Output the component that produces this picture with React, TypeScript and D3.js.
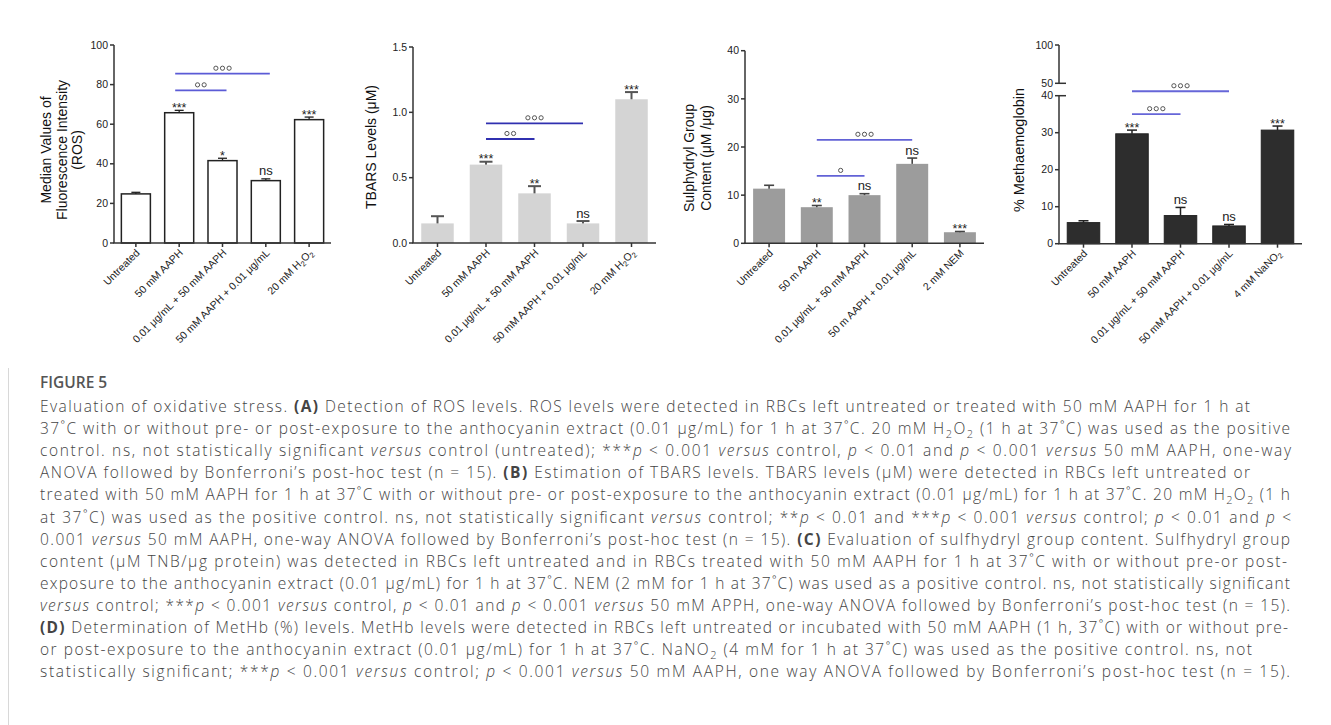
import React from "react";
import * as d3 from "d3";

// ---------------- DATA ----------------
const rosCategories = ["Untreated", "50 mM AAPH", "0.01 μg/mL + 50 mM AAPH", "50 mM AAPH + 0.01 μg/mL", "20 mM H<sub>2</sub>O<sub>2</sub>"];
const rosValues = [24.8, 65.8, 41.6, 31.5, 62.3];
const rosErrors = [0.8, 1.2, 1.2, 0.9, 1.3];
const rosStars = ["", "***", "*", "ns", "***"];
const rosTicks = [0, 20, 40, 60, 80, 100];
const rosBracketFrom = [1, 1];
const rosBracketTo = [2, 3];
const rosBracketY = [77.1, 85.5];
const rosBracketMarks = [2, 3];

const tbarsCategories = ["Untreated", "50 mM AAPH", "0.01 μg/mL + 50 mM AAPH", "50 mM AAPH + 0.01 μg/mL", "20 mM H<sub>2</sub>O<sub>2</sub>"];
const tbarsValues = [0.15, 0.6, 0.38, 0.15, 1.1];
const tbarsErrors = [0.055, 0.022, 0.055, 0.018, 0.055];
const tbarsStars = ["", "***", "**", "ns", "***"];
const tbarsTicks = [0, 0.5, 1.0, 1.5];
const tbarsBracketFrom = [1, 1];
const tbarsBracketTo = [2, 3];
const tbarsBracketY = [0.796, 0.916];
const tbarsBracketMarks = [2, 3];

const shCategories = ["Untreated", "50 m AAPH", "0.01 μg/mL + 50 mM AAPH", "50 m AAPH + 0.01 μg/mL", "2 mM NEM"];
const shValues = [11.35, 7.5, 10.0, 16.5, 2.3];
const shErrors = [0.7, 0.35, 0.3, 1.2, 0.15];
const shStars = ["", "**", "ns", "ns", "***"];
const shTicks = [0, 10, 20, 30, 40];
const shBracketFrom = [1, 1];
const shBracketTo = [2, 3];
const shBracketY = [14.0, 21.5];
const shBracketMarks = [1, 3];

const methCategories = ["Untreated", "50 mM AAPH", "0.01 μg/mL + 50 mM AAPH", "50 mM AAPH + 0.01 μg/mL", "4 mM NaNO<sub>2</sub>"];
const methValues = [5.7, 29.7, 7.6, 4.8, 30.7];
const methErrors = [0.5, 1.0, 2.2, 0.4, 1.1];
const methStars = ["", "***", "ns", "ns", "***"];
const methTicksLower = [0, 10, 20, 30, 40];
const methTicksUpper = [50, 100];
const methBracketFrom = [1, 1];
const methBracketTo = [2, 3];
const methBracketY = [35.0, 41.2];
const methBracketMarks = [3, 3];

const captionTitle = "FIGURE 5";
const captionLines = [
  "Evaluation of oxidative stress. <b>(A)</b> Detection of ROS levels. ROS levels were detected in RBCs left untreated or treated with 50 mM AAPH for 1 h at",
  "37˚C with or without pre- or post-exposure to the anthocyanin extract (0.01 μg/mL) for 1 h at 37˚C. 20 mM H<sub>2</sub>O<sub>2</sub> (1 h at 37˚C) was used as the positive",
  "control. ns, not statistically significant <i>versus</i> control (untreated); ***<i>p</i> < 0.001 <i>versus</i> control, <i>p</i> < 0.01 and <i>p</i> < 0.001 <i>versus</i> 50 mM AAPH, one-way",
  "ANOVA followed by Bonferroni’s post-hoc test (n = 15). <b>(B)</b> Estimation of TBARS levels. TBARS levels (μM) were detected in RBCs left untreated or",
  "treated with 50 mM AAPH for 1 h at 37˚C with or without pre- or post-exposure to the anthocyanin extract (0.01 μg/mL) for 1 h at 37˚C. 20 mM H<sub>2</sub>O<sub>2</sub> (1 h",
  "at 37˚C) was used as the positive control. ns, not statistically significant <i>versus</i> control; **<i>p</i> < 0.01 and ***<i>p</i> < 0.001 <i>versus</i> control; <i>p</i> < 0.01 and <i>p</i> <",
  "0.001 <i>versus</i> 50 mM AAPH, one-way ANOVA followed by Bonferroni’s post-hoc test (n = 15). <b>(C)</b> Evaluation of sulfhydryl group content. Sulfhydryl group",
  "content (μM TNB/μg protein) was detected in RBCs left untreated and in RBCs treated with 50 mM AAPH for 1 h at 37˚C with or without pre-or post-",
  "exposure to the anthocyanin extract (0.01 μg/mL) for 1 h at 37˚C. NEM (2 mM for 1 h at 37˚C) was used as a positive control. ns, not statistically significant",
  "<i>versus</i> control; ***<i>p</i> < 0.001 <i>versus</i> control, <i>p</i> < 0.01 and <i>p</i> < 0.001 <i>versus</i> 50 mM APPH, one-way ANOVA followed by Bonferroni’s post-hoc test (n = 15).",
  "<b>(D)</b> Determination of MetHb (%) levels. MetHb levels were detected in RBCs left untreated or incubated with 50 mM AAPH (1 h, 37˚C) with or without pre-",
  "or post-exposure to the anthocyanin extract (0.01 μg/mL) for 1 h at 37˚C. NaNO<sub>2</sub> (4 mM for 1 h at 37˚C) was used as the positive control. ns, not",
  "statistically significant; ***<i>p</i> < 0.001 <i>versus</i> control; <i>p</i> < 0.001 <i>versus</i> 50 mM AAPH, one way ANOVA followed by Bonferroni’s post-hoc test (n = 15).",
];
const captionLineEnds = [1250, 1290, 1291, 1250, 1290, 1291, 1290, 1287, 1290, 1290, 1288, 1252, 1290];

// ---------------- HELPERS ----------------
const FONT = "'Liberation Sans', Arial, Helvetica, sans-serif";

function rich(s: string, subSize: number, subDy: number) {
  const parts = s.split(/(<\/?(?:b|i|sub)>)/).filter((p) => p !== "");
  let b = false, it = false, sub = false, prevSub = false;
  const out: any[] = [];
  parts.forEach((p, k) => {
    if (p === "<b>") b = true;
    else if (p === "</b>") b = false;
    else if (p === "<i>") it = true;
    else if (p === "</i>") it = false;
    else if (p === "<sub>") sub = true;
    else if (p === "</sub>") sub = false;
    else {
      let dy = 0;
      if (sub && !prevSub) dy = subDy;
      if (!sub && prevSub) dy = -subDy;
      out.push(
        <tspan key={k} dy={dy || undefined} fontWeight={b ? 700 : undefined} fontStyle={it ? "italic" : undefined} fontSize={sub ? subSize : undefined}>
          {p}
        </tspan>
      );
      prevSub = sub;
    }
  });
  return out;
}

type PanelProps = {
  cats: string[];
  vals: number[];
  errs: number[];
  stars: string[];
  bFrom: number[];
  bTo: number[];
  bY: number[];
  bN: number[];
  bExt: number;
  x0: number;
  x1: number;
  y: d3.ScaleLinear<number, number>;
  ticks: number[];
  fmt: (n: number) => string;
  fill: string;
  stroke: string;
  strokeW: number;
  errColor: string;
  errW: number;
  capW: number;
  bracketColor: string;
  titles: string[];
  titleX: number[];
  titleY: number;
  titleSize: number;
  upper?: { y: d3.ScaleLinear<number, number>; ticks: number[] };
};

function Panel(p: PanelProps) {
  const x = d3.scaleBand<number>().domain(d3.range(p.cats.length)).range([p.x0, p.x1]).paddingInner(0.33).paddingOuter(0.17);
  const yBase = p.y(0);
  const axisColor = "#333";
  const lowerTop = p.y(p.ticks[p.ticks.length - 1]);
  return (
    <g fontFamily={FONT}>
      {p.vals.map((v, i) => (
        <rect key={"b" + i} x={x(i)} y={p.y(v)} width={x.bandwidth()} height={yBase - p.y(v)} fill={p.fill} stroke={p.stroke} strokeWidth={p.strokeW} />
      ))}
      {p.vals.map((v, i) => {
        const cx = (x(i) as number) + x.bandwidth() / 2;
        const top = p.y(v + p.errs[i]);
        return (
          <g key={"e" + i} stroke={p.errColor} strokeWidth={p.errW}>
            <line x1={cx} x2={cx} y1={p.y(v)} y2={top} />
            <line x1={cx - p.capW / 2} x2={cx + p.capW / 2} y1={top} y2={top} />
          </g>
        );
      })}
      {p.stars.map((s, i) => {
        if (!s) return null;
        const cx = (x(i) as number) + x.bandwidth() / 2;
        const top = p.y(p.vals[i] + p.errs[i]);
        const isNs = s === "ns";
        return (
          <text key={"s" + i} x={cx} y={isNs ? top - 3.5 : top + 1.5} textAnchor="middle" fontSize={isNs ? 13 : 12.5} fill="#222">
            {s}
          </text>
        );
      })}
      {p.bFrom.map((f, k) => {
        const xa = (x(f) as number) + x.bandwidth() / 2 - p.bExt;
        const xb = (x(p.bTo[k]) as number) + x.bandwidth() / 2 + p.bExt;
        const yy = p.y(p.bY[k]);
        const mid = (xa + xb) / 2;
        const n = p.bN[k];
        return (
          <g key={"k" + k}>
            <line x1={xa} x2={xb} y1={yy} y2={yy} stroke={p.bracketColor} strokeWidth={1.8} />
            {d3.range(n).map((j) => (
              <circle key={j} cx={mid + (j - (n - 1) / 2) * 6.6} cy={yy - 5.5} r={2.1} fill="none" stroke="#555" strokeWidth={1} />
            ))}
          </g>
        );
      })}
      <line x1={p.x0} x2={p.x0} y1={yBase} y2={lowerTop} stroke={axisColor} strokeWidth={1.5} />
      {p.ticks.map((t, i) => {
        const isBreak = !!p.upper && i === p.ticks.length - 1;
        return (
          <g key={"t" + t}>
            <line x1={p.x0 - 4} x2={isBreak ? p.x0 + 7 : p.x0} y1={p.y(t)} y2={p.y(t)} stroke={axisColor} strokeWidth={1.5} />
            <text x={p.x0 - 6} y={p.y(t)} dy="0.35em" textAnchor="end" fontSize={10.5} fill="#222">
              {p.fmt(t)}
            </text>
          </g>
        );
      })}
      {p.upper && (
        <g>
          <line x1={p.x0} x2={p.x0} y1={p.upper.y(p.upper.ticks[0])} y2={p.upper.y(p.upper.ticks[p.upper.ticks.length - 1])} stroke={axisColor} strokeWidth={1.5} />
          {p.upper.ticks.map((t, i) => (
            <g key={"u" + t}>
              <line x1={p.x0 - 4} x2={i === 0 ? p.x0 + 7 : p.x0} y1={p.upper!.y(t)} y2={p.upper!.y(t)} stroke={axisColor} strokeWidth={1.5} />
              <text x={p.x0 - 6} y={p.upper!.y(t)} dy="0.35em" textAnchor="end" fontSize={10.5} fill="#222">
                {p.fmt(t)}
              </text>
            </g>
          ))}
        </g>
      )}
      <line x1={p.x0 - 0.75} x2={p.x1} y1={yBase} y2={yBase} stroke={axisColor} strokeWidth={1.5} />
      {p.cats.map((c, i) => {
        const cx = (x(i) as number) + x.bandwidth() / 2;
        return (
          <g key={"c" + i}>
            <line x1={cx} x2={cx} y1={yBase} y2={yBase + 4} stroke={axisColor} strokeWidth={1.5} />
            <text transform={`translate(${cx + 4.5},${yBase + 10.5}) rotate(-45)`} textAnchor="end" fontSize={10.5} fill="#222" style={{ whiteSpace: "pre" }}>
              {rich(c, 7.5, 2.5)}
            </text>
          </g>
        );
      })}
      {p.titles.map((t, i) => (
        <text key={"y" + i} transform={`translate(${p.titleX[i]},${p.titleY}) rotate(-90)`} textAnchor="middle" fontSize={p.titleSize} fill="#111">
          {t}
        </text>
      ))}
    </g>
  );
}

export default function App() {
  const f0 = d3.format("d");
  const f1 = d3.format(".1f");
  const yA = d3.scaleLinear().domain([0, 100]).range([243, 45]);
  const yB = d3.scaleLinear().domain([0, 1.5]).range([243, 47]);
  const yC = d3.scaleLinear().domain([0, 40]).range([243.3, 50.7]);
  const yD = d3.scaleLinear().domain([0, 40]).range([243.7, 95.7]);
  const yDu = d3.scaleLinear().domain([50, 100]).range([83.3, 45]);

  const capX = 40;
  const capY0 = 412;
  const capStep = 22.1;

  return (
    <div style={{ position: "absolute", left: 0, top: 0, width: 1331, height: 725, background: "#fff" }}>
      <svg width={1331} height={725} viewBox="0 0 1331 725" style={{ display: "block" }}>
        <rect width={1331} height={725} fill="#fff" />
        <Panel
          cats={rosCategories} vals={rosValues} errs={rosErrors} stars={rosStars}
          bFrom={rosBracketFrom} bTo={rosBracketTo} bY={rosBracketY} bN={rosBracketMarks} bExt={4}
          x0={114} x1={331} y={yA} ticks={rosTicks} fmt={f0}
          fill="#fff" stroke="#222" strokeW={1.5} errColor="#222" errW={1.3} capW={9}
          bracketColor="#5b5bd6"
          titles={["Median Values of", "Fluorescence Intensity", "(ROS)"]} titleX={[51, 66.5, 82]} titleY={150} titleSize={14}
        />
        <Panel
          cats={tbarsCategories} vals={tbarsValues} errs={tbarsErrors} stars={tbarsStars}
          bFrom={tbarsBracketFrom} bTo={tbarsBracketTo} bY={tbarsBracketY} bN={tbarsBracketMarks} bExt={0}
          x0={413} x1={656} y={yB} ticks={tbarsTicks} fmt={f1}
          fill="#d4d4d4" stroke="none" strokeW={0} errColor="#555" errW={2} capW={13}
          bracketColor="#3030b0"
          titles={["TBARS Levels (μM)"]} titleX={[376]} titleY={147} titleSize={14}
        />
        <Panel
          cats={shCategories} vals={shValues} errs={shErrors} stars={shStars}
          bFrom={shBracketFrom} bTo={shBracketTo} bY={shBracketY} bN={shBracketMarks} bExt={0}
          x0={745} x1={984} y={yC} ticks={shTicks} fmt={f0}
          fill="#9c9c9c" stroke="none" strokeW={0} errColor="#444" errW={1.6} capW={10}
          bracketColor="#6262d6"
          titles={["Sulphydryl Group", "Content (μM /μg)"]} titleX={[693.5, 711]} titleY={158} titleSize={14}
        />
        <Panel
          cats={methCategories} vals={methValues} errs={methErrors} stars={methStars}
          bFrom={methBracketFrom} bTo={methBracketTo} bY={methBracketY} bN={methBracketMarks} bExt={0}
          x0={1059} x1={1302} y={yD} ticks={methTicksLower} fmt={f0}
          fill="#2d2d2d" stroke="#222" strokeW={1} errColor="#222" errW={1.5} capW={10}
          bracketColor="#6666d8"
          titles={["% Methaemoglobin"]} titleX={[1024]} titleY={150} titleSize={14.5}
          upper={{ y: yDu, ticks: methTicksUpper }}
        />

        <line x1={8.5} x2={8.5} y1={368} y2={725} stroke="#d8d8d8" strokeWidth={1} />
        <text x={capX} y={388} fontFamily="'Open Sans', 'Noto Sans', sans-serif" fontWeight={600} fontSize={15.5} fill="#555">
          {captionTitle}
        </text>
        {captionLines.map((l, i) => (
          <text
            key={i}
            x={capX}
            y={capY0 + i * capStep}
            fontFamily="'Open Sans', 'Noto Sans', sans-serif"
            fontWeight={300}
            fontSize={15.5}
            fill="#444"
            textLength={captionLineEnds[i] - capX}
            lengthAdjust="spacing"
            style={{ whiteSpace: "pre" }}
          >
            {rich(l, 11, 4)}
          </text>
        ))}
      </svg>
    </div>
  );
}
